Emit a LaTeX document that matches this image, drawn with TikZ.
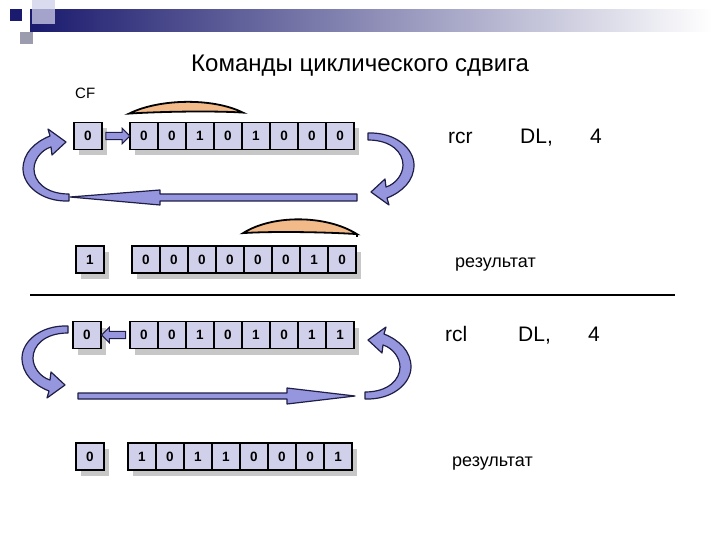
\documentclass[tikz,border=0pt]{standalone}
\usepackage{fontspec}
\setmainfont{Liberation Sans}
\usetikzlibrary{calc,shadows,shapes.arrows}

\definecolor{cellfill}{RGB}{208,208,234}
\definecolor{arrowfill}{RGB}{150,150,222}
\definecolor{arrowline}{RGB}{30,30,70}
\definecolor{navy}{RGB}{26,26,110}
\definecolor{peach}{RGB}{242,186,136}

\newcommand{\bendarrow}{(24,32) .. controls (-4,33) and (-22,16) .. (-22,0) .. controls (-22,-16) and (-10,-27) .. (5,-33) -- (3,-40) -- (21,-27) -- (7,-14) -- (6,-22) .. controls (-4,-19) and (-11,-9) .. (-11,0) .. controls (-11,12) and (0,25) .. (24,25) -- cycle}

\begin{document}
\begin{tikzpicture}[x=1pt, y=-1pt,
	cell/.style={draw, line width=1.8pt, fill=cellfill, minimum width=28pt, minimum height=27pt, inner sep=0pt, font=\fontsize{13.5}{13.5}\selectfont\bfseries, drop shadow={shadow xshift=5pt, shadow yshift=-6pt, fill=black!22, opacity=1}},
	bigarrow/.style={draw=arrowline, fill=arrowfill, line width=1.2pt, line join=round},
	smallarrow/.style={single arrow, draw=arrowline, fill=arrowfill, line width=1pt, minimum height=24pt, inner sep=3.2pt, single arrow head extend=4pt},
	lens/.style={draw=black, fill=peach, line width=1.8pt},
	cmd/.style={anchor=base west, inner sep=0pt, font=\fontsize{21}{21}\selectfont},
	result/.style={anchor=base west, inner sep=0pt, font=\fontsize{18}{18}\selectfont}]

	\useasboundingbox (0,0) rectangle (720,540);
	\fill[white] (0,0) rectangle (720,540);

	\shade[left color=navy, right color=white] (30,10) rectangle (712,32);
	\fill[navy] (10,9) rectangle (22,21);
	\fill[cellfill, opacity=0.75] (32,0) rectangle (55,24);
	\fill[black!25!cellfill] (20,32) rectangle (33,44);

	\node[anchor=base] (title) at (360,72) {\fontsize{24}{24}\selectfont Команды циклического сдвига};

	\node[anchor=base west, inner sep=0pt, font=\fontsize{15}{15}\selectfont] (cf) at (75,99) {CF};
	\node[cell] (rcrin-0) at (88,136) {0};
	\foreach \b [count=\i] in {0,0,1,0,1,0,0,0}
		\node[cell] (rcrin-\i) at ({144+28*(\i-1)},136) {\b};
	\node[smallarrow] (rcrin-push) at ($(rcrin-0.east)!0.5!(rcrin-1.west)$) {};

	\coordinate (rcrin-a) at ([yshift=8pt]rcrin-1.north west);
	\coordinate (rcrin-b) at ([yshift=9pt]rcrin-4.north east);
	\path[lens] (rcrin-a) .. controls ($(rcrin-a)+(30,-15)$) and ($(rcrin-b)+(-30,-15)$) .. (rcrin-b) .. controls ($(rcrin-b)+(-30,-2)$) and ($(rcrin-a)+(30,-2)$) .. (rcrin-a) -- cycle;

	\begin{scope}[shift={(45,169)}]
		\draw[bigarrow] \bendarrow;
	\end{scope}
	\begin{scope}[shift={(392,165)}, rotate=180]
		\draw[bigarrow] \bendarrow;
	\end{scope}

	\coordinate (rcr-tail) at (357,197);
	\coordinate (rcr-tip) at (70,197);
	\draw[bigarrow] (rcr-tail) ++(0,-3) -- ++(-197,0) -- ++(0,-4) -- (rcr-tip) -- ++(90,8) -- ++(0,-4) -- ++(197,0) -- cycle;

	\node[cmd] (rcr-op) at (448,143.5) {rcr};
	\node[cmd] (rcr-reg) at (520,143.5) {DL,};
	\node[cmd] (rcr-n) at (590,143.5) {4};

	\node[cell] (rcrout-0) at (90,259.5) {1};
	\foreach \b [count=\i] in {0,0,0,0,0,0,1,0}
		\node[cell] (rcrout-\i) at ({146+28*(\i-1)},259.5) {\b};

	\coordinate (rcrout-a) at ([yshift=12pt]rcrout-5.north west);
	\coordinate (rcrout-b) at ([yshift=11pt]rcrout-8.north east);
	\path[lens] (rcrout-a) .. controls ($(rcrout-a)+(30,-19)$) and ($(rcrout-b)+(-30,-19)$) .. (rcrout-b) .. controls ($(rcrout-b)+(-30,-2)$) and ($(rcrout-a)+(30,-2)$) .. (rcrout-a) -- cycle;
	\draw[line width=1.8pt] (rcrout-b) -- ++(0,3);

	\node[result] (rcr-res) at (455,267) {результат};

	\coordinate (sep-l) at (30,295);
	\coordinate (sep-r) at (675,295);
	\draw[line width=1.8pt] (sep-l) -- (sep-r);

	\node[cell] (rclin-0) at (87,335) {0};
	\foreach \b [count=\i] in {0,0,1,0,1,0,1,1}
		\node[cell] (rclin-\i) at ({144+28*(\i-1)},335) {\b};
	\node[smallarrow, shape border rotate=180] (rclin-push) at ($(rclin-0.east)!0.5!(rclin-1.west)$) {};

	\begin{scope}[shift={(44,358)}, yscale=-1]
		\draw[bigarrow] \bendarrow;
	\end{scope}
	\begin{scope}[shift={(389,367)}, xscale=-1]
		\draw[bigarrow] \bendarrow;
	\end{scope}

	\coordinate (rcl-tail) at (78,396);
	\coordinate (rcl-tip) at (355,396);
	\draw[bigarrow] (rcl-tail) ++(0,-3) -- ++(209,0) -- ++(0,-5) -- (rcl-tip) -- ++(-68,8) -- ++(0,-5) -- ++(-209,0) -- cycle;

	\node[cmd] (rcl-op) at (445,341) {rcl};
	\node[cmd] (rcl-reg) at (518,341) {DL,};
	\node[cmd] (rcl-n) at (588,341) {4};

	\node[cell] (rclout-0) at (90,456.5) {0};
	\foreach \b [count=\i] in {1,0,1,1,0,0,0,1}
		\node[cell] (rclout-\i) at ({142+28*(\i-1)},456.5) {\b};

	\node[result] (rcl-res) at (452,466) {результат};
\end{tikzpicture}
\end{document}
